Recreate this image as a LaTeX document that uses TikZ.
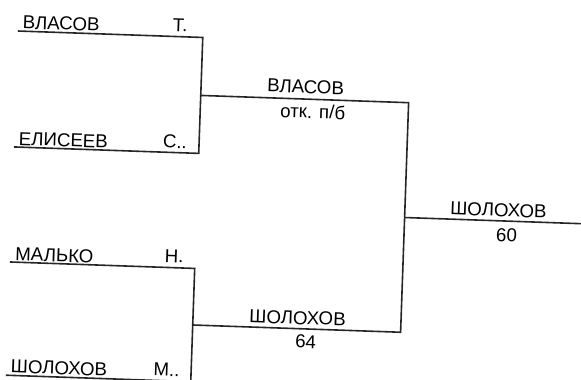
\documentclass[tikz,border=0pt]{standalone}
\usepackage{fontspec}
\setmainfont{Liberation Sans}
\usepackage{tikz}
\usetikzlibrary{calc}

\tikzset{
	bracket/.style={line width=1.6pt,black!85},
	lbl/.style={inner sep=0pt,font=\fontsize{18.7}{20}\selectfont}
}

\begin{document}
\begin{tikzpicture}[x=1pt,y=-1pt]
	\useasboundingbox (0,0) rectangle (581,380);
	\begin{scope}[rotate around={-2:(290,190)},transform shape]
	\coordinate (p1) at (12.5,40.6);   \coordinate (q1) at (197.5,40.6);
	\coordinate (p2) at (12.5,156.6);  \coordinate (q2) at (197.5,156.6);
	\coordinate (p3) at (12.5,271.7);  \coordinate (q3) at (197.5,271.7);
	\coordinate (p4) at (12.5,385);    \coordinate (q4) at (197.5,385);
	\coordinate (s1) at (197.5,98.6);  \coordinate (t1) at (405.5,98.6);
	\coordinate (s2) at (197.5,328.3); \coordinate (t2) at (405.5,328.3);
	\coordinate (f) at (405.5,213.5);  \coordinate (g) at (590,213.5);
	\draw[bracket] (p1) -- (q1) -- (q2) -- (p2);
	\draw[bracket] (p3) -- (q3) -- (q4) -- (p4);
	\draw[bracket] (s1) -- (t1) -- (t2) -- (s2);
	\draw[bracket] (f) -- (g);
	\node[lbl,anchor=base west] (vlasov) at (17,38) {ВЛАСОВ};
	\node[lbl,anchor=base east] (vlasovI) at (182,35.5) {Т.};
	\node[lbl,anchor=base west] (eliseev) at (17,154.5) {ЕЛИСЕЕВ};
	\node[lbl,anchor=base east] (eliseevI) at (185.5,152) {С..};
	\node[lbl,anchor=base west] (malko) at (17.5,270) {МАЛЬКО};
	\node[lbl,anchor=base east] (malkoI) at (186,266.5) {Н.};
	\node[lbl,anchor=base west] (sholokhov) at (17,382.5) {ШОЛОХОВ};
	\node[lbl,anchor=base east] (sholokhovI) at (186,380.6) {М..};
	\node[lbl,anchor=base] (semiA) at (302,92.8) {ВЛАСОВ};
	\node[lbl,anchor=base] (scoreA) at (310,117.5) {отк. п/б};
	\node[lbl,anchor=base] (semiB) at (302,323.9) {ШОЛОХОВ};
	\node[lbl,anchor=base] (scoreB) at (311,347.6) {64};
	\node[lbl,anchor=base] (winner) at (499,209.2) {ШОЛОХОВ};
	\node[lbl,anchor=base] (scoreF) at (508,233.9) {60};
	\end{scope}
\end{tikzpicture}
\end{document}
